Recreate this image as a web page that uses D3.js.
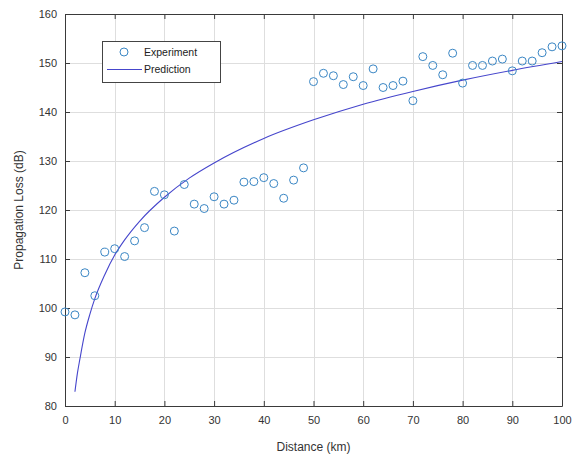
<!DOCTYPE html>
<html>
<head>
<meta charset="utf-8">
<script src="https://cdn.jsdelivr.net/npm/d3@7"></script>
<style>
  html, body { margin: 0; padding: 0; background: #fff; }
  svg { display: block; font-family: "Liberation Sans", Arial, sans-serif; }
</style>
</head>
<body>
<svg id="chart" width="572" height="457"></svg>
<script>
// Measured propagation loss, one reading every 2 km
const expDistance = [0, 2, 4, 6, 8, 10, 12, 14, 16, 18, 20, 22, 24, 26, 28, 30, 32, 34, 36, 38, 40,
  42, 44, 46, 48, 50, 52, 54, 56, 58, 60, 62, 64, 66, 68, 70, 72, 74, 76, 78, 80,
  82, 84, 86, 88, 90, 92, 94, 96, 98, 100];
const expLoss = [99.2, 98.6, 107.2, 102.5, 111.4, 112.1, 110.5, 113.7, 116.4, 123.8, 123.1, 115.7, 125.2, 121.2, 120.3, 122.7, 121.2, 122.0, 125.7, 125.8, 126.6,
  125.4, 122.4, 126.1, 128.6, 146.2, 147.9, 147.4, 145.6, 147.2, 145.4, 148.8, 145.0, 145.4, 146.3, 142.3, 151.3, 149.5, 147.6, 152.0, 145.9,
  149.5, 149.5, 150.4, 150.8, 148.4, 150.4, 150.4, 152.1, 153.3, 153.5];

// Model prediction sampled along the range
const predDistance = [2, 2.5, 3, 4, 5, 6, 8, 10, 12, 15, 20, 25, 30, 40, 50, 60, 70, 80, 90, 100];
const predLoss = [82.9, 86.7, 89.6, 94.9, 98.7, 101.9, 106.8, 110.8, 113.9, 117.7, 122.6, 126.5, 129.6, 134.6, 138.4, 141.6, 144.2, 146.5, 148.5, 150.3];

const xTicks = [0, 10, 20, 30, 40, 50, 60, 70, 80, 90, 100];
const yTicks = [80, 90, 100, 110, 120, 130, 140, 150, 160];

const svg = d3.select("#chart");
const plotLeft = 65, plotRight = 562, plotTop = 14, plotBottom = 406;

const x = d3.scaleLinear().domain([0, 100]).range([plotLeft, plotRight]);
const y = d3.scaleLinear().domain([80, 160]).range([plotBottom, plotTop]);

const axisColor = "#3a3a3a";
const textColor = "#333";

// grid
const grid = svg.append("g");
grid.selectAll("line.gx").data(xTicks.slice(1, -1)).join("line")
  .attr("x1", d => Math.round(x(d)) + 0.5).attr("x2", d => Math.round(x(d)) + 0.5)
  .attr("y1", plotTop).attr("y2", plotBottom)
  .attr("stroke", "#dedede").attr("stroke-width", 1);
grid.selectAll("line.gy").data(yTicks.slice(1, -1)).join("line")
  .attr("y1", d => Math.round(y(d)) + 0.5).attr("y2", d => Math.round(y(d)) + 0.5)
  .attr("x1", plotLeft).attr("x2", plotRight)
  .attr("stroke", "#dedede").attr("stroke-width", 1);

// axes with inward ticks on all four sides
function styleAxis(g) {
  g.selectAll("path").attr("stroke", axisColor);
  g.selectAll(".tick line").attr("stroke", axisColor);
  g.selectAll("text").attr("fill", textColor).attr("font-size", "11px")
    .attr("font-family", "Liberation Sans, Arial, sans-serif");
}
svg.append("g").attr("transform", `translate(0,${plotBottom})`)
  .call(d3.axisBottom(x).tickValues(xTicks).tickSizeInner(-5).tickSizeOuter(0).tickPadding(10))
  .call(styleAxis);
svg.append("g").attr("transform", `translate(0,${plotTop})`)
  .call(d3.axisTop(x).tickValues(xTicks).tickSizeInner(-5).tickSizeOuter(0).tickFormat(""))
  .call(styleAxis);
svg.append("g").attr("transform", `translate(${plotLeft},0)`)
  .call(d3.axisLeft(y).tickValues(yTicks).tickSizeInner(-5).tickSizeOuter(0).tickPadding(8))
  .call(styleAxis);
svg.append("g").attr("transform", `translate(${plotRight},0)`)
  .call(d3.axisRight(y).tickValues(yTicks).tickSizeInner(-5).tickSizeOuter(0).tickFormat(""))
  .call(styleAxis);

// prediction curve
const line = d3.line()
  .x((d, i) => x(predDistance[i]))
  .y(d => y(d))
  .curve(d3.curveMonotoneX);
svg.append("path")
  .datum(predLoss)
  .attr("d", line)
  .attr("fill", "none")
  .attr("stroke", "#4646cc")
  .attr("stroke-width", 1.1);

// experiment markers
svg.append("g").selectAll("circle").data(expLoss).join("circle")
  .attr("cx", (d, i) => x(expDistance[i]))
  .attr("cy", d => y(d))
  .attr("r", 4)
  .attr("fill", "none")
  .attr("stroke", "#3a86c4")
  .attr("stroke-width", 1);

// legend
const lg = svg.append("g");
lg.append("rect").attr("x", 102.5).attr("y", 41.5).attr("width", 118).attr("height", 41)
  .attr("fill", "#fff").attr("stroke", "#444").attr("stroke-width", 1);
lg.append("circle").attr("cx", 124).attr("cy", 52).attr("r", 4)
  .attr("fill", "none").attr("stroke", "#3a86c4").attr("stroke-width", 1);
lg.append("line").attr("x1", 107).attr("x2", 142).attr("y1", 69.5).attr("y2", 69.5)
  .attr("stroke", "#4646cc").attr("stroke-width", 1.1);
lg.append("text").attr("x", 144).attr("y", 56).text("Experiment")
  .attr("font-size", "10.5px").attr("fill", "#222");
lg.append("text").attr("x", 144).attr("y", 73).text("Prediction")
  .attr("font-size", "10.5px").attr("fill", "#222");

// axis titles
svg.append("text").attr("x", (plotLeft + plotRight) / 2).attr("y", 451)
  .attr("text-anchor", "middle").attr("font-size", "12px").attr("fill", textColor)
  .text("Distance (km)");
svg.append("text")
  .attr("transform", `translate(23,${(plotTop + plotBottom) / 2}) rotate(-90)`)
  .attr("text-anchor", "middle").attr("font-size", "12px").attr("fill", textColor)
  .text("Propagation Loss (dB)");
</script>
</body>
</html>
